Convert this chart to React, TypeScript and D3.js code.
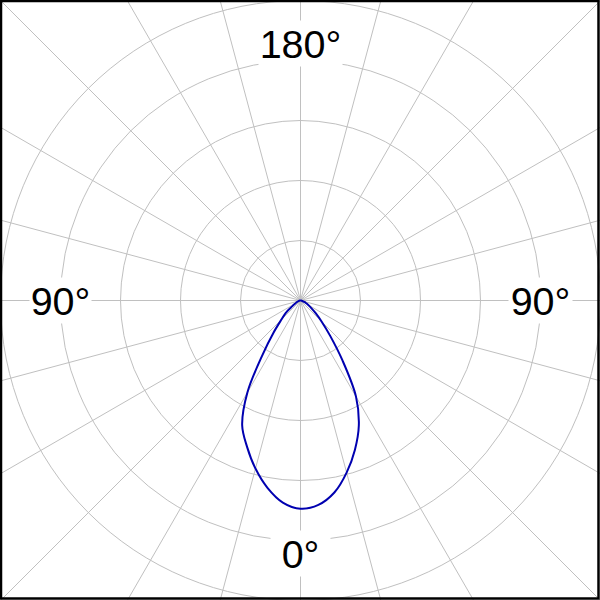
import React from "react";
import * as d3 from "d3";

// Gamma angles (degrees from nadir) and intensity readings (cd) for both half-planes
const gammaAngles = [0, 5, 10, 15, 20, 25, 30, 35, 40, 45, 50, 55, 60, 65, 70, 75, 80, 85, 90];
const rightValues = [347, 342, 325, 297, 265, 230, 185, 122, 77, 50, 33, 22, 15, 10, 7, 3, 2, 1, 0];
const leftValues = [347, 338, 317, 290, 260, 230, 177, 110, 70, 45, 32, 17, 10, 7, 5, 3, 2, 1, 0];

const ringValues = [100, 200, 300, 400, 500];
const spokeAngles = d3.range(0, 360, 15);
const axisLabels = ["0°", "90°", "180°", "90°"];
const axisLabelAngles = [180, 90, 0, 270]; // radial angle, 0 = up, clockwise

const W = 600;
const H = 600;
const cx = 300.5;
const cy = 300.5;

export default function App() {
  const r = d3.scaleLinear().domain([0, 500]).range([0, 300]);
  const toRad = (deg: number) => (deg * Math.PI) / 180;

  const pts: [number, number][] = [];
  for (let i = gammaAngles.length - 1; i >= 0; i--) {
    pts.push([toRad(180 + gammaAngles[i]), r(leftValues[i])]);
  }
  for (let i = 1; i < gammaAngles.length; i++) {
    pts.push([toRad(180 - gammaAngles[i]), r(rightValues[i])]);
  }
  const line = d3
    .lineRadial<[number, number]>()
    .angle((d) => d[0])
    .radius((d) => d[1])
    .curve(d3.curveCatmullRom.alpha(0.5));
  const pathD = line(pts) || "";

  const labelRadius = [253, 240, 257, 240];
  const labelBoxW = [60, 64, 84, 62];
  const labelBoxH = 46;
  const fontSize = 39.5;

  return (
    <svg
      width={W}
      height={H}
      style={{ position: "fixed", left: 0, top: 0, background: "#fff" }}
    >
      <rect x={0} y={0} width={W} height={H} fill="#fff" />
      <g transform={`translate(${cx},${cy})`}>
        {spokeAngles.map((a) => {
          const rad = toRad(a);
          return (
            <line
              key={"s" + a}
              x1={0}
              y1={0}
              x2={Math.sin(rad) * 500}
              y2={-Math.cos(rad) * 500}
              stroke="#c0c0c0"
              strokeWidth={1}
            />
          );
        })}
        {ringValues.map((v) => (
          <circle key={"c" + v} r={r(v)} fill="none" stroke="#c0c0c0" strokeWidth={1} />
        ))}
        {axisLabels.map((t, i) => {
          const rad = toRad(axisLabelAngles[i]);
          const x = Math.sin(rad) * labelRadius[i];
          const y = -Math.cos(rad) * labelRadius[i];
          return (
            <g key={"l" + i} transform={`translate(${x},${y})`}>
              <rect
                x={-labelBoxW[i] / 2}
                y={-labelBoxH / 2}
                width={labelBoxW[i]}
                height={labelBoxH}
                fill="#fff"
              />
              <text
                x={0}
                y={fontSize * 0.358}
                textAnchor="middle"
                fontFamily="'Liberation Sans', Arial, sans-serif"
                fontSize={fontSize}
                fill="#000"
              >
                {t}
              </text>
            </g>
          );
        })}
        <path d={pathD} fill="none" stroke="#0000b0" strokeWidth={2} strokeLinejoin="round" />
      </g>
      <rect x={1} y={1} width={W - 2.5} height={H - 2.5} fill="none" stroke="#000" strokeWidth={2.5} />
    </svg>
  );
}
